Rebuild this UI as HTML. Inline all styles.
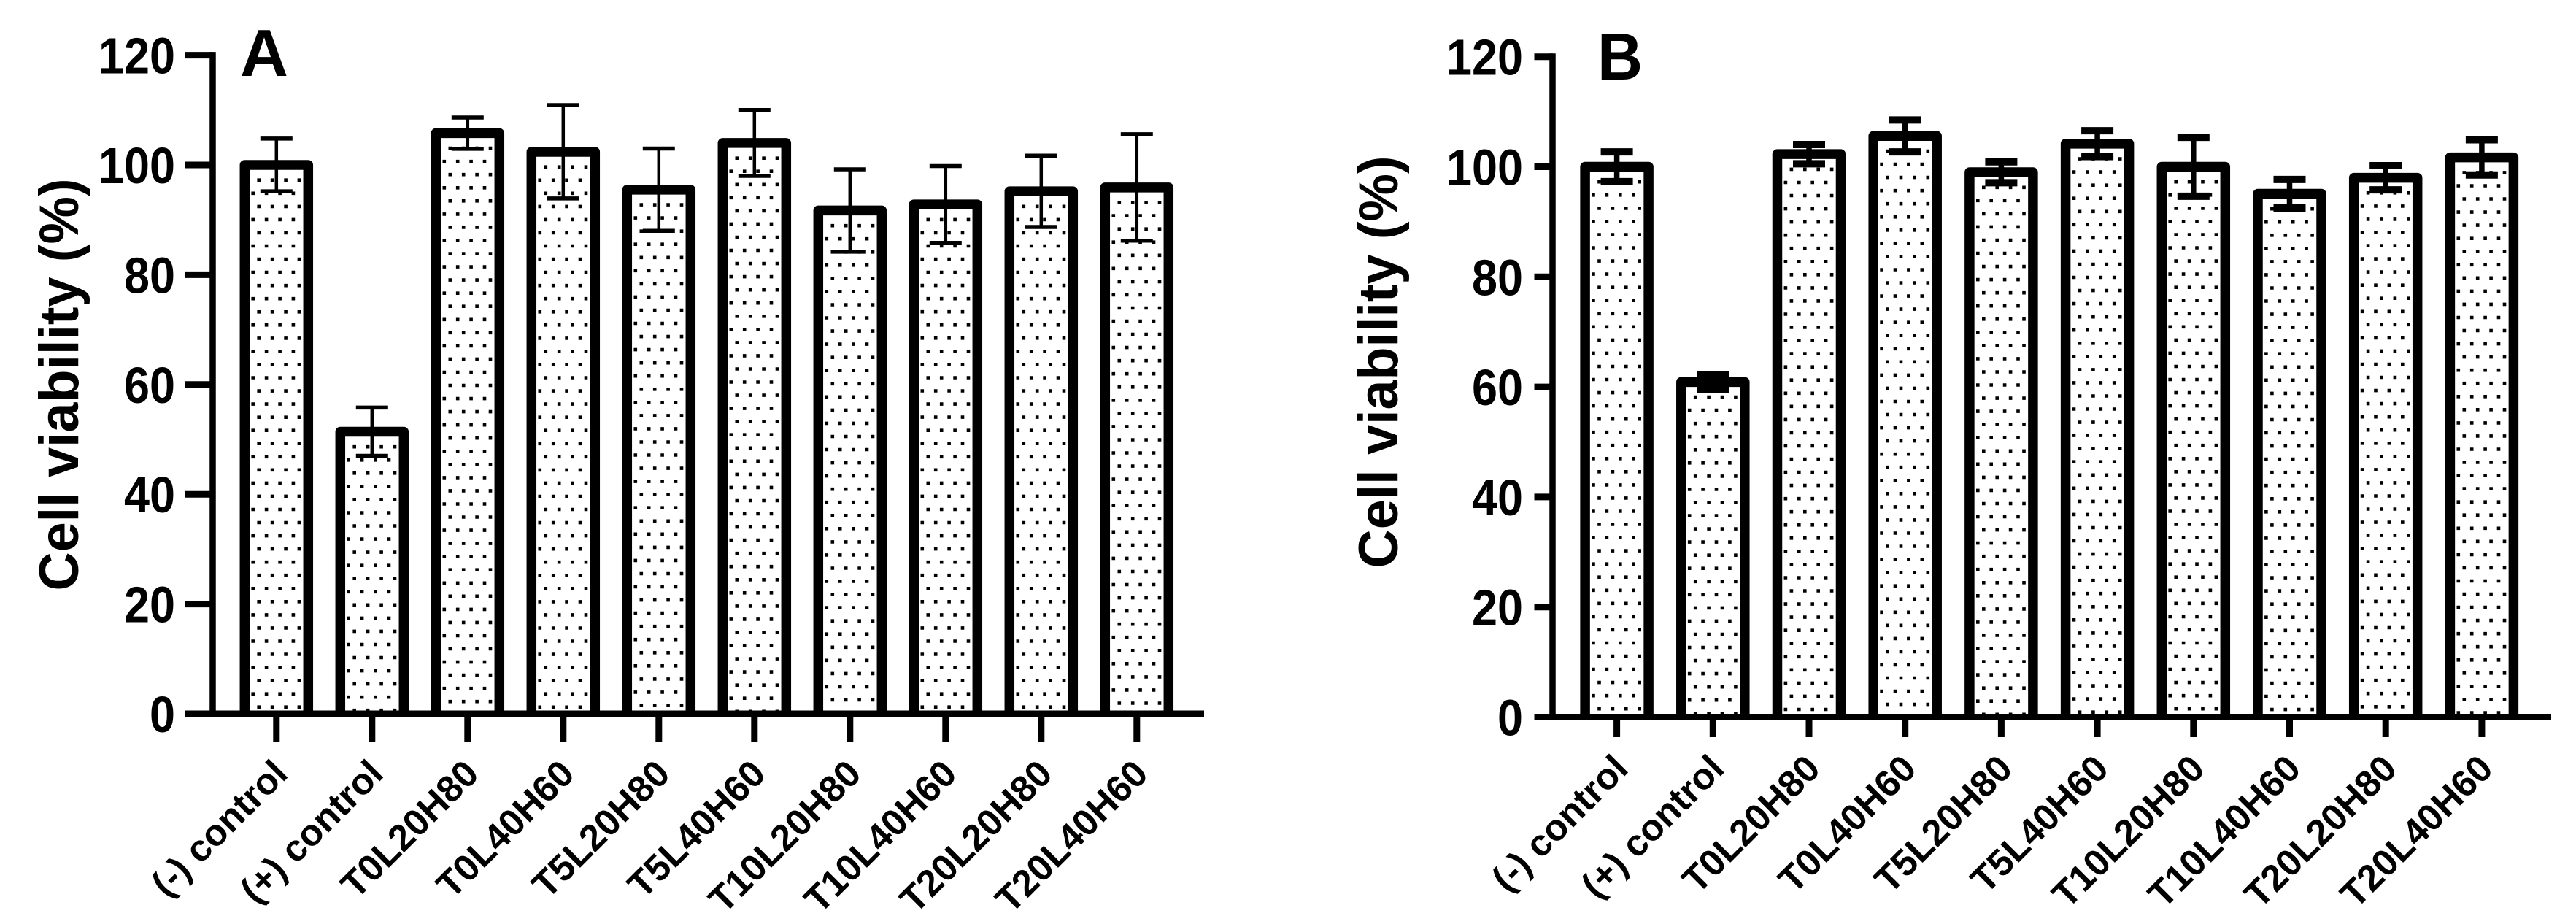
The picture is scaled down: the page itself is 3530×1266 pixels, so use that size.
<!DOCTYPE html>
<html lang="en">
<head>
<meta charset="utf-8">
<title>Cell viability charts</title>
<style>
html,body{margin:0;padding:0;background:#fff;width:3530px;height:1266px;overflow:hidden}
svg{display:block}
text{font-family:"Liberation Sans",Arial,sans-serif;font-weight:bold;fill:#000}
</style>
</head>
<body>
<svg id="chart" xmlns="http://www.w3.org/2000/svg" width="3530" height="1266" viewBox="0 0 3530 1266">
<rect x="0" y="0" width="3530" height="1266" fill="#fff"/>
</svg>
<script>
const categories = ["(-) control","(+) control","T0L20H80","T0L40H60","T5L20H80","T5L40H60","T10L20H80","T10L40H60","T20L20H80","T20L40H60"];
const yTickValues = [0,20,40,60,80,100,120];
const yTitleLabel = "Cell viability (%)";
const panelAMeans = [100,51.4,105.8,102.4,95.5,104,91.7,92.8,95.2,95.9];
const panelAErrors = [4.8,4.4,2.85,8.5,7.5,6,7.5,7,6.5,9.7];
const panelBMeans = [100,60.9,102.3,105.6,99,104.2,100,95.1,98,101.7];
const panelBErrors = [2.7,1.3,1.75,2.9,1.9,2.35,5.35,2.6,2.2,3.2];

const svg = document.getElementById('chart');
const NS = 'http://www.w3.org/2000/svg';

function make(parent, tag, attrs, txt) {
  const el = document.createElementNS(NS, tag);
  for (const k in attrs) el.setAttribute(k, attrs[k]);
  if (txt !== undefined) el.textContent = txt;
  parent.appendChild(el);
  return el;
}

function drawPanel(p) {
  const y = v => p.y0 - v * p.yUnit;
  const x = i => p.x0 + i * p.xStep;
  const group = make(svg, 'g', {});
  
  

  // Bars with dotted fill
  const half = 43.5, stroke = 13.5, rowStep = 18.05, colStep = 18.4, dot = 4.6;
  p.means.forEach((m, i) => {
    const cx = x(i), top = y(m);
    const bar = make(group, 'path', {
      d: 'M' + (cx - half) + ' ' + p.y0 + 'L' + (cx - half) + ' ' + top + 'L' + (cx + half) + ' ' + top + 'L' + (cx + half) + ' ' + p.y0,
      fill: '#fff', stroke: '#000', 'stroke-width': stroke, 'stroke-linejoin': 'round'
    });
    
    

    const innerLeft = cx - half + stroke / 2, innerTop = top + stroke / 2;
    let d = '';
    let row = 0;
    for (let ry = innerTop + 14; ry < p.y0 - 2; ry += rowStep, row++) {
      const off = row % 2 === 0 ? 12.7 : 4.7;
      for (let c = 0; c < 4; c++) {
        const dx = innerLeft + off + c * colStep;
        d += 'M' + (dx - dot / 2).toFixed(1) + ' ' + (ry - dot / 2).toFixed(1) + 'h' + dot + 'v' + dot + 'h-' + dot + 'z';
      }
    }
    const dots = make(group, 'path', { d: d, fill: '#000' });
    
    
  });

  // Error bars
  p.means.forEach((m, i) => {
    const cx = x(i), hi = y(m + p.errors[i]), lo = y(m - p.errors[i]);
    const err = make(group, 'path', {
      d: 'M' + cx + ' ' + hi + 'V' + lo,
      stroke: '#000', 'stroke-width': p.errStem, fill: 'none'
    });
    
    
    const caps = make(group, 'path', {
      d: 'M' + (cx - 22) + ' ' + hi + 'H' + (cx + 22) + 'M' + (cx - 22) + ' ' + lo + 'H' + (cx + 22),
      stroke: '#000', 'stroke-width': p.errCap, fill: 'none'
    });
    
    
  });

  // Y axis
  const yAxis = make(group, 'line', {
    x1: p.axisX, x2: p.axisX, y1: y(120) - 4.5, y2: p.y0 + 4.5, stroke: '#000', 'stroke-width': 8.5
  });
  
  
  yTickValues.forEach(v => {
    const t = make(group, 'line', {
      x1: p.tickLeft, x2: p.axisX, y1: y(v), y2: y(v), stroke: '#000', 'stroke-width': 9
    });
    
    
    const s = String(v);
    const lab = make(group, 'text', {
      x: p.labelRight, y: y(v) + 25, 'text-anchor': 'end', 'font-size': 70,
      textLength: s.length * 35, lengthAdjust: 'spacingAndGlyphs'
    }, s);
    
    
  });

  // X axis
  const xAxis = make(group, 'line', {
    x1: p.tickLeft, x2: p.axisEnd, y1: p.y0, y2: p.y0, stroke: '#000', 'stroke-width': 9
  });
  
  
  categories.forEach((c, i) => {
    const cx = x(i);
    const t = make(group, 'line', {
      x1: cx, x2: cx, y1: p.y0, y2: p.tickBottom, stroke: '#000', 'stroke-width': 9
    });
    
    
    const ax = cx + 18, ay = p.labelY;
    const lab = make(group, 'text', {
      x: ax, y: ay, 'text-anchor': 'end', 'font-size': 51,
      transform: 'rotate(-45 ' + ax + ' ' + ay + ')'
    }, c);
    
    
  });

  // Axis title
  const title = make(group, 'text', {
    x: 0, y: 0, 'text-anchor': 'middle', 'font-size': 76,
    textLength: 565, lengthAdjust: 'spacingAndGlyphs',
    transform: 'translate(' + p.titleX + ' ' + p.titleY + ') rotate(-90)'
  }, yTitleLabel);
  
  

  // Panel letter
  const letter = make(group, 'text', {
    x: p.letterX, y: p.letterY, 'font-size': 91, textLength: p.letterWidth, lengthAdjust: 'spacingAndGlyphs'
  }, p.letter);
  
  
}

drawPanel({
  name: 'panel-a', letter: 'A', means: panelAMeans, errors: panelAErrors,
  y0: 978, yUnit: 7.52, x0: 378.8, xStep: 131,
  axisX: 291.5, tickLeft: 254, axisEnd: 1650, tickBottom: 1016,
  labelRight: 240, labelY: 1063, titleX: 107, titleY: 527,
  letterX: 329, letterY: 104, letterWidth: 66, errStem: 4.5, errCap: 5.5
});
drawPanel({
  name: 'panel-b', letter: 'B', means: panelBMeans, errors: panelBErrors,
  y0: 982.5, yUnit: 7.54, x0: 2215.6, xStep: 131.7,
  axisX: 2127.5, tickLeft: 2102.5, axisEnd: 3496, tickBottom: 1010,
  labelRight: 2087, labelY: 1056, titleX: 1915, titleY: 496,
  letterX: 2189, letterY: 109, letterWidth: 62, errStem: 7.5, errCap: 10
});
</script>
</body>
</html>
